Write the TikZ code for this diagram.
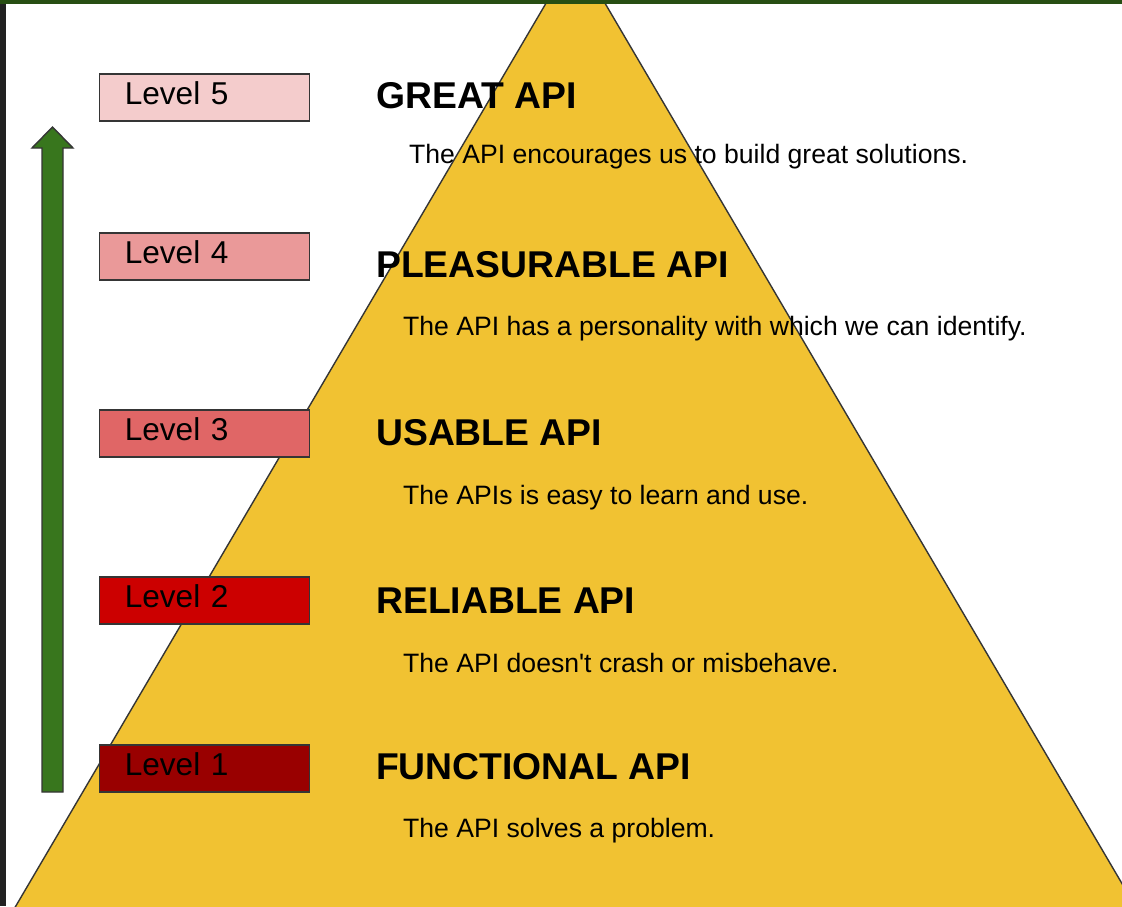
\documentclass[tikz,border=0pt]{standalone}
\usepackage{fontspec}
\setmainfont{Liberation Sans}
\usetikzlibrary{positioning}

\definecolor{pyramidfill}{HTML}{F1C232}
\definecolor{edgegray}{HTML}{353535}
\definecolor{arrowgreen}{HTML}{38761D}
\definecolor{topgreen}{HTML}{274E13}
\definecolor{sidegray}{HTML}{212121}
\definecolor{lvlfive}{HTML}{F4CCCC}
\definecolor{lvlfour}{HTML}{EA9999}
\definecolor{lvlthree}{HTML}{E06666}
\definecolor{lvltwo}{HTML}{CC0000}
\definecolor{lvlone}{HTML}{990000}

\begin{document}
\begin{tikzpicture}[x=1pt,y=-1pt]
  \tikzset{levelbox/.style = {draw=edgegray,line width=1.6pt,anchor=north west,inner xsep=25.5pt,inner ysep=0pt,text width=159pt,align=left,text height=31pt,text depth=16pt,font=\fontsize{31.6}{38}\selectfont}}
  \tikzset{title/.style = {anchor=base west,inner sep=0pt,font=\bfseries\fontsize{37.3}{44}\selectfont}}
  \tikzset{desc/.style = {anchor=base west,inner sep=0pt,font=\fontsize{26.6}{32}\selectfont}}

  \useasboundingbox (0,0) rectangle (1122,906);
  \clip (0,0) rectangle (1122,906);
  \fill[white] (0,0) rectangle (1122,906);

  % pyramid
  \coordinate (apex) at (575.5,-47);
  \filldraw[fill=pyramidfill,draw=edgegray,line width=1.4pt] (apex) -- (-10,950) -- (1161,950) -- cycle;

  % frame
  \fill[sidegray] (0,0) rectangle (6,906);
  \fill[topgreen] (0,0) rectangle (1122,4);

  % arrow
  \filldraw[fill=arrowgreen,draw=edgegray,line width=1.4pt,line join=miter]
    (42,792) -- (42,148) -- (32,148) -- (52.5,127) -- (73,148) -- (63,148) -- (63,792) -- cycle;

	\foreach \n/\top/\col in {5/73/lvlfive, 4/232/lvlfour, 3/409/lvlthree, 2/576/lvltwo, 1/744/lvlone}
    \node[levelbox,fill=\col] (L\n) at (98.5,\top) {Level \n};

	\foreach \n/\y/\t in {5/108/GREAT API, 4/277/PLEASURABLE API, 3/445/USABLE API, 2/613/RELIABLE API, 1/779/FUNCTIONAL API}
    \node[title] (T\n) at (376,\y) {\t};

	\node[desc] (D5) at (409,163) {The API encourages us to build great solutions.};
	\node[desc] (D4) at (403,335) {The API has a personality with which we can identify.};
	\node[desc] (D3) at (403,504) {The APIs is easy to learn and use.};
	\node[desc] (D2) at (403,672) {The API doesn\textquotesingle t crash or misbehave.};
	\node[desc] (D1) at (403,837) {The API solves a problem.};
\end{tikzpicture}
\end{document}
